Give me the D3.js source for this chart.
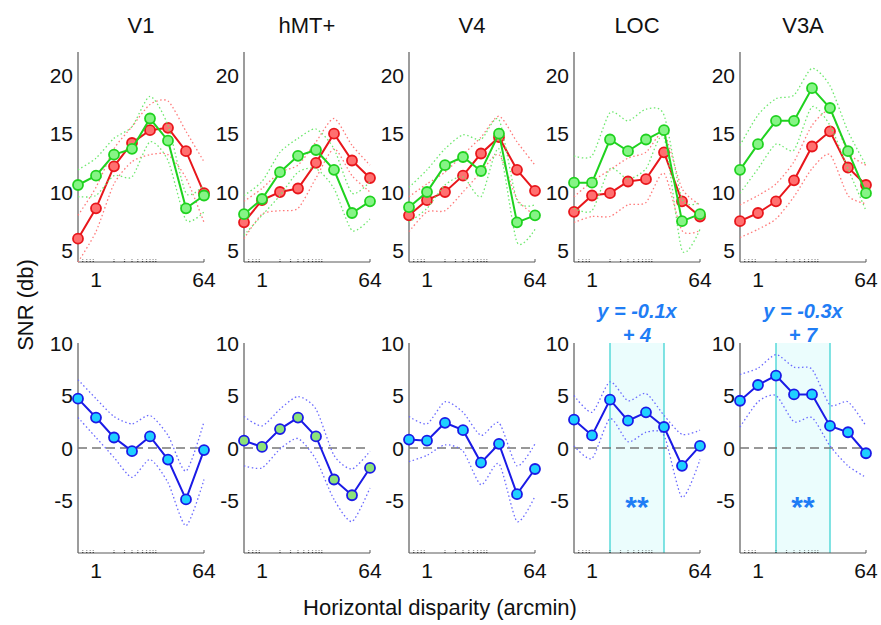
<!DOCTYPE html>
<html>
<head>
<meta charset="utf-8">
<script src="https://cdn.jsdelivr.net/npm/d3@7"></script>
<style>
  body { margin: 0; background: #fff; }
  svg { display: block; font-family: "Liberation Sans", Arial, sans-serif; }
</style>
</head>
<body>
<svg id="chart" width="881" height="625"></svg>
<script>
'use strict';

//data
var regions = ['V1', 'hMT+', 'V4', 'LOC', 'V3A'];
var disparity = [0.5, 1, 2, 4, 8, 16, 32, 64];
var xTickLabels = [1, 64];
var topTicks = [5, 10, 15, 20];
var bottomTicks = [-5, 0, 5, 10];

var redMean = [
  [6.0, 8.6, 12.2, 14.2, 15.3, 15.5, 13.5, 9.9],
  [7.4, 9.3, 10.0, 10.3, 12.5, 15.0, 12.7, 11.2],
  [8.0, 9.3, 10.0, 11.4, 13.3, 14.7, 11.9, 10.1],
  [8.3, 9.7, 9.9, 10.9, 11.1, 13.4, 9.2, 7.9],
  [7.5, 8.2, 9.2, 11.0, 13.9, 15.2, 12.1, 10.6]
];
var redUpper = [
  [8.0, 10.4, 13.7, 15.6, 17.5, 17.8, 15.2, 12.6],
  [9.2, 10.3, 11.7, 12.3, 14.3, 16.3, 14.0, 12.3],
  [9.6, 10.7, 11.7, 13.2, 14.7, 16.5, 14.3, 12.3],
  [9.6, 10.9, 11.9, 12.9, 13.4, 15.0, 10.3, 8.9],
  [8.9, 9.7, 10.7, 12.6, 15.7, 16.9, 13.4, 12.3]
];
var redLower = [
  [4.0, 6.6, 10.7, 12.6, 13.2, 13.2, 11.2, 7.4],
  [6.0, 8.1, 8.4, 8.6, 11.2, 13.7, 11.4, 10.0],
  [6.6, 8.3, 8.4, 10.0, 11.7, 13.2, 9.4, 8.0],
  [7.4, 7.9, 7.9, 8.9, 9.1, 11.6, 6.7, 6.7],
  [6.1, 6.8, 7.7, 9.6, 12.0, 13.2, 9.7, 9.0]
];
var greenMean = [
  [10.6, 11.4, 13.2, 13.7, 16.3, 14.4, 8.6, 9.7],
  [8.1, 9.4, 11.7, 13.1, 13.6, 11.9, 8.2, 9.2],
  [8.7, 10.0, 12.3, 13.0, 11.8, 15.0, 7.4, 8.0],
  [10.8, 10.8, 14.5, 13.5, 14.5, 15.3, 7.5, 8.1],
  [11.9, 14.1, 16.1, 16.1, 18.9, 17.2, 13.5, 9.9]
];
var greenUpper = [
  [11.9, 12.9, 14.6, 15.6, 18.2, 15.7, 9.9, 10.6],
  [9.7, 10.9, 13.4, 14.6, 15.4, 13.7, 9.9, 10.9],
  [10.4, 11.9, 13.7, 14.9, 14.5, 16.2, 9.3, 8.9],
  [13.1, 13.1, 16.8, 16.1, 17.1, 16.6, 9.4, 9.1],
  [14.0, 16.6, 18.0, 18.3, 20.6, 19.1, 15.2, 12.3]
];
var greenLower = [
  [9.6, 9.7, 11.4, 11.3, 14.3, 12.7, 7.6, 8.3],
  [6.3, 8.0, 9.7, 11.7, 12.0, 10.3, 6.7, 7.7],
  [7.4, 8.6, 10.6, 11.3, 9.6, 13.7, 5.7, 6.8],
  [8.6, 8.4, 12.0, 11.1, 12.0, 14.7, 5.0, 6.8],
  [9.9, 12.0, 14.1, 13.6, 17.3, 15.7, 12.0, 8.4]
];
var diffMean = [
  [4.7, 2.9, 1.0, -0.3, 1.1, -1.1, -4.9, -0.2],
  [0.7, 0.1, 1.8, 2.9, 1.1, -3.0, -4.5, -1.9],
  [0.8, 0.7, 2.4, 1.7, -1.4, 0.4, -4.4, -2.0],
  [2.7, 1.2, 4.6, 2.6, 3.4, 2.0, -1.7, 0.2],
  [4.5, 6.0, 6.9, 5.1, 5.1, 2.1, 1.5, -0.5]
];
var diffUpper = [
  [6.5, 4.7, 3.0, 2.3, 3.1, 1.2, -2.2, 2.5],
  [3.0, 2.1, 3.7, 4.9, 3.7, -0.7, -2.0, -0.3],
  [3.0, 2.3, 4.4, 3.4, 1.2, 2.4, -1.7, 0.4],
  [5.0, 3.4, 6.3, 4.5, 5.2, 3.1, 1.3, 1.7],
  [7.0, 7.6, 8.9, 7.7, 7.5, 4.1, 4.4, 2.1]
];
var diffLower = [
  [2.9, 1.0, -0.9, -2.8, -1.1, -3.3, -7.4, -3.0],
  [-1.7, -1.9, -0.1, 0.9, -1.1, -4.9, -7.0, -3.8],
  [-1.3, -0.7, 0.3, -0.3, -3.5, -1.5, -7.0, -4.6],
  [0.2, -1.0, 2.8, 0.6, 1.5, 1.2, -4.7, -1.1],
  [2.0, 4.4, 5.0, 2.5, 2.9, 0.2, -1.7, -2.8]
];
//fitted slope text and significant range, only LOC and V3A
var fitLines = [null, null, null, ['y = -0.1x', '+ 4'], ['y = -0.3x', '+ 7']];
var sigRange = [2, 16];
var minorTicks = [0.6, 0.7, 0.8, 0.9, 2, 3, 4, 5, 6, 7, 8, 9, 10];

var svg = d3.select('#chart');

var layout = {
  lefts: [78, 244, 409, 574, 740],
  width: 126,
  topY: 52,
  bottomY: 343,
  height: 210
};

var x = d3.scaleLog().base(2).domain([0.5, 64]).range([0, layout.width]);
var yTop = d3.scaleLinear().domain([4, 22]).range([layout.height, 0]);
var yBottom = d3.scaleLinear().domain([-10, 10]).range([layout.height, 0]);

var colors = {
  red: { line: '#e8161b', fill: '#ff7070', band: '#ff7a7a' },
  green: { line: '#1fd21f', fill: '#86f486', band: '#6ee86e' },
  blue: { line: '#1a1ae6', fill: '#1fd0ff', band: '#6a6aff' }
};
var textColor = '#111';

function drawAxes(g, yScale, ticks) {
  g.append('line')
    .attr('x1', 0).attr('x2', 0)
    .attr('y1', 0).attr('y2', layout.height)
    .attr('stroke', '#5a5a5a').attr('stroke-width', 1.2);
  g.append('line')
    .attr('x1', 0).attr('x2', layout.width)
    .attr('y1', layout.height).attr('y2', layout.height)
    .attr('stroke', '#5a5a5a').attr('stroke-width', 1.2);

  //small log ticks inside the bottom axis
  g.selectAll('.minor')
    .data(minorTicks)
    .enter()
    .append('line')
    .attr('class', 'minor')
    .attr('x1', function (d) { return x(d); })
    .attr('x2', function (d) { return x(d); })
    .attr('y1', layout.height)
    .attr('y2', layout.height - 2.5)
    .attr('stroke', '#333')
    .attr('stroke-width', 1.2)
    .attr('stroke-dasharray', '1,1');
  g.append('line')
    .attr('x1', layout.width).attr('x2', layout.width)
    .attr('y1', layout.height).attr('y2', layout.height - 3)
    .attr('stroke', '#5a5a5a');

  g.selectAll('.ylab')
    .data(ticks)
    .enter()
    .append('text')
    .attr('class', 'ylab')
    .attr('x', -5)
    .attr('y', function (d) { return yScale(d); })
    .attr('dy', '0.36em')
    .attr('text-anchor', 'end')
    .attr('font-size', 21)
    .attr('fill', textColor)
    .text(function (d) { return d; });

  g.selectAll('.xlab')
    .data(xTickLabels)
    .enter()
    .append('text')
    .attr('class', 'xlab')
    .attr('x', function (d) { return x(d); })
    .attr('y', layout.height + 25)
    .attr('text-anchor', 'middle')
    .attr('font-size', 21)
    .attr('fill', textColor)
    .text(function (d) { return d; });
}

function drawSeries(g, yScale, mean, upper, lower, color, markerFill) {
  var line = d3.line()
    .x(function (d, i) { return x(disparity[i]); })
    .y(function (d) { return yScale(d); })
    .curve(d3.curveCardinal.tension(0.3));
  var straight = d3.line()
    .x(function (d, i) { return x(disparity[i]); })
    .y(function (d) { return yScale(d); });

  [upper, lower].forEach(function (band) {
    g.append('path')
      .attr('d', line(band))
      .attr('fill', 'none')
      .attr('stroke', color.band)
      .attr('stroke-width', 1.3)
      .attr('stroke-dasharray', '1.5,2.5');
  });

  g.append('path')
    .attr('d', straight(mean))
    .attr('fill', 'none')
    .attr('stroke', color.line)
    .attr('stroke-width', 2);

  g.selectAll(null)
    .data(mean)
    .enter()
    .append('circle')
    .attr('cx', function (d, i) { return x(disparity[i]); })
    .attr('cy', function (d) { return yScale(d); })
    .attr('r', 5)
    .attr('fill', markerFill || color.fill)
    .attr('stroke', color.line)
    .attr('stroke-width', 1.8);
}

regions.forEach(function (name, i) {
  var top = svg.append('g')
    .attr('transform', 'translate(' + layout.lefts[i] + ',' + layout.topY + ')');
  var bottom = svg.append('g')
    .attr('transform', 'translate(' + layout.lefts[i] + ',' + layout.bottomY + ')');

  top.append('text')
    .attr('x', layout.width / 2)
    .attr('y', -19)
    .attr('text-anchor', 'middle')
    .attr('font-size', 22)
    .attr('fill', textColor)
    .text(name);

  //shaded significant window for the fitted regions
  if (fitLines[i]) {
    bottom.append('rect')
      .attr('x', x(sigRange[0]))
      .attr('y', 0)
      .attr('width', x(sigRange[1]) - x(sigRange[0]))
      .attr('height', layout.height)
      .attr('fill', '#ebfdfd');
    sigRange.forEach(function (s) {
      bottom.append('line')
        .attr('x1', x(s)).attr('x2', x(s))
        .attr('y1', 0).attr('y2', layout.height)
        .attr('stroke', '#3fd4d4').attr('stroke-width', 1.3);
    });
  }

  drawAxes(top, yTop, topTicks);
  drawAxes(bottom, yBottom, bottomTicks);

  drawSeries(top, yTop, redMean[i], redUpper[i], redLower[i], colors.red);
  drawSeries(top, yTop, greenMean[i], greenUpper[i], greenLower[i], colors.green);

  bottom.append('line')
    .attr('x1', 0).attr('x2', layout.width)
    .attr('y1', yBottom(0)).attr('y2', yBottom(0))
    .attr('stroke', '#777').attr('stroke-width', 1.5)
    .attr('stroke-dasharray', '9,5');

  drawSeries(bottom, yBottom, diffMean[i], diffUpper[i], diffLower[i], colors.blue,
    name === 'hMT+' ? '#8ce27a' : null);

  if (fitLines[i]) {
    var cx = (x(sigRange[0]) + x(sigRange[1])) / 2;
    bottom.selectAll('.fit')
      .data(fitLines[i])
      .enter()
      .append('text')
      .attr('class', 'fit')
      .attr('x', cx)
      .attr('y', function (d, j) { return -25 + j * 24; })
      .attr('text-anchor', 'middle')
      .attr('font-size', 20)
      .attr('font-weight', 'bold')
      .attr('font-style', 'italic')
      .attr('fill', '#1f7df5')
      .text(function (d) { return d; });
    bottom.append('text')
      .attr('x', cx)
      .attr('y', yBottom(-5) + 16)
      .attr('text-anchor', 'middle')
      .attr('font-size', 30)
      .attr('font-weight', 'bold')
      .attr('fill', '#1f7df5')
      .text('**');
  }
});

//shared axis titles
svg.append('text')
  .attr('transform', 'translate(33,305) rotate(-90)')
  .attr('text-anchor', 'middle')
  .attr('font-size', 22)
  .attr('fill', textColor)
  .text('SNR (db)');

svg.append('text')
  .attr('x', 440)
  .attr('y', 615)
  .attr('text-anchor', 'middle')
  .attr('font-size', 22)
  .attr('fill', textColor)
  .text('Horizontal disparity (arcmin)');
</script>
</body>
</html>
